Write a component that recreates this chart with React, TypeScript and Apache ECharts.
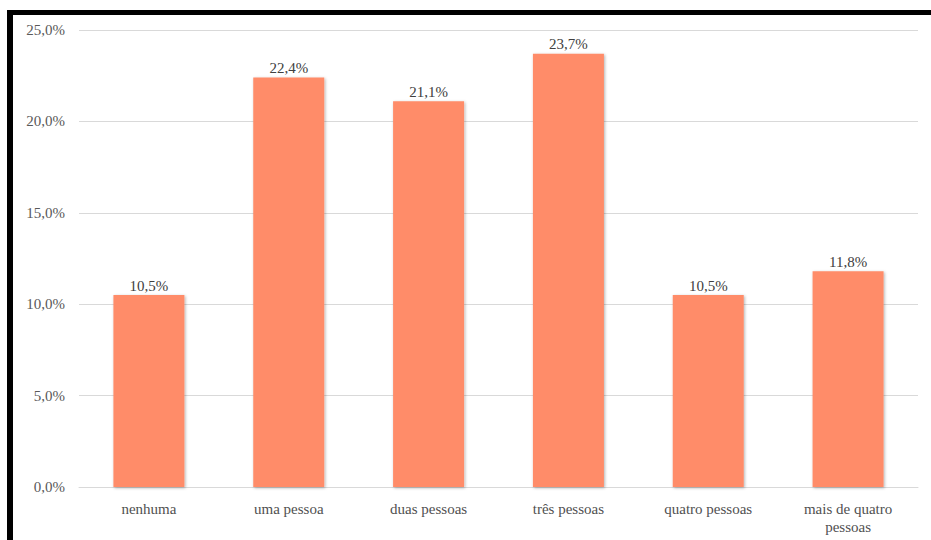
import React, { useEffect, useRef } from "react";
import * as echarts from "echarts";

const categories = ["nenhuma", "uma pessoa", "duas pessoas", "três pessoas", "quatro pessoas", "mais de quatro\npessoas"];
const values = [10.5, 22.4, 21.1, 23.7, 10.5, 11.8];

const fmt = (v: number) => v.toFixed(1).replace(".", ",") + "%";

export default function App() {
  const ref = useRef<HTMLDivElement>(null);
  useEffect(() => {
    if (!ref.current) return;
    const chart = echarts.init(ref.current, undefined, { renderer: "svg" });
    chart.setOption({
      animation: false,
      backgroundColor: "#ffffff",
      grid: { left: 79, right: 13, top: 30, bottom: 53, containLabel: false },
      xAxis: {
        type: "category",
        data: categories,
        axisLine: { show: true, lineStyle: { color: "#d9d9d9", width: 1 } },
        axisTick: { show: false },
        axisLabel: {
          color: "#505050",
          fontFamily: "Liberation Serif",
          fontSize: 15,
          margin: 13,
          lineHeight: 18,
          interval: 0,
        },
      },
      yAxis: {
        type: "value",
        min: 0,
        max: 25,
        interval: 5,
        axisLine: { show: false },
        axisTick: { show: false },
        splitLine: { lineStyle: { color: "#d9d9d9", width: 1 } },
        axisLabel: {
          color: "#595959",
          fontFamily: "Liberation Serif",
          fontSize: 15,
          margin: 14,
          formatter: (v: number) => fmt(v),
        },
      },
      series: [
        {
          type: "bar",
          data: values,
          barWidth: 71,
          itemStyle: {
            color: "#FF8C69",
            shadowBlur: 3,
            shadowColor: "rgba(0,0,0,0.3)",
            shadowOffsetX: 1,
            shadowOffsetY: 1,
          },
          label: {
            show: true,
            position: "top",
            distance: 2,
            color: "#404040",
            fontFamily: "Liberation Serif",
            fontSize: 15,
            formatter: (p: any) => fmt(p.value),
          },
        },
      ],
    });
    return () => chart.dispose();
  }, []);
  return (
    <div style={{ position: "fixed", left: 0, top: 0, width: 931, height: 540, background: "#fff" }}>
      <div ref={ref} style={{ position: "absolute", left: 0, top: 0, width: 931, height: 540 }} />
      <div style={{ position: "absolute", left: 7, top: 10, width: 924, height: 5, background: "#000" }} />
      <div style={{ position: "absolute", left: 7, top: 10, width: 6, height: 530, background: "#000" }} />
    </div>
  );
}
